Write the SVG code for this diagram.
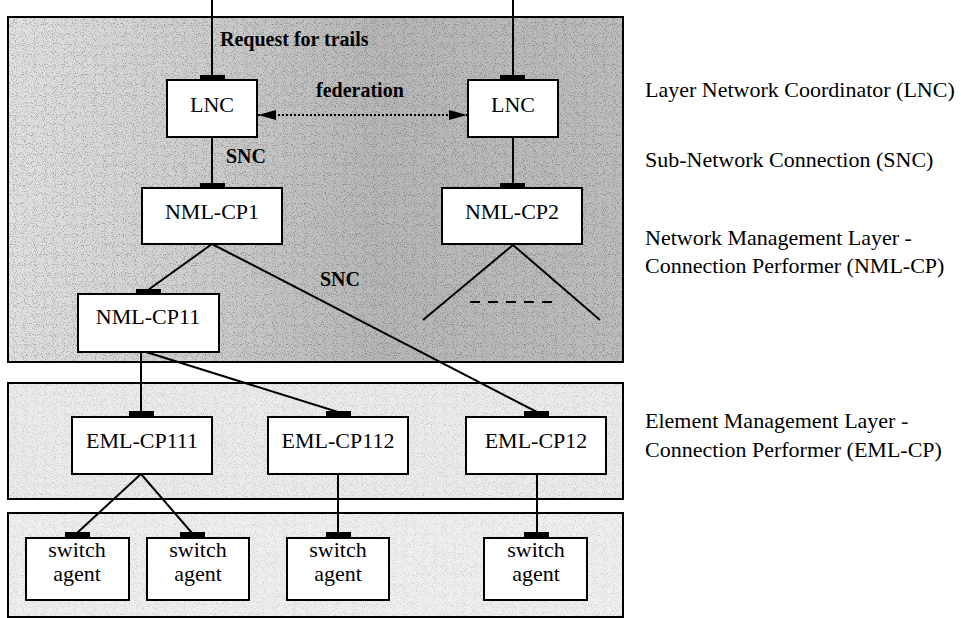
<svg xmlns="http://www.w3.org/2000/svg" width="961" height="618" viewBox="0 0 961 618">
<style>
.panel{stroke:#000;stroke-width:2}
.box{fill:#fff;stroke:#000;stroke-width:2}
.port{fill:#000}
.t{font-family:"Liberation Serif","Times New Roman",serif;font-size:22px;fill:#000}
.c{text-anchor:middle}
.b{font-weight:bold;font-size:20px}
.ln{stroke:#000;stroke-width:2;fill:none}
</style>
<defs>
<linearGradient id="g1" x1="0" y1="0" x2="1" y2="0">
<stop offset="0" stop-color="#e2e2e2"/>
<stop offset="0.3" stop-color="#d0d0d0"/>
<stop offset="0.6" stop-color="#b8b8b8"/>
<stop offset="1" stop-color="#bebebe"/>
</linearGradient>
<filter id="noise" x="0" y="0" width="100%" height="100%">
<feTurbulence type="fractalNoise" baseFrequency="0.9" numOctaves="1" seed="7"/>
<feColorMatrix type="matrix" values="0 0 0 0 0  0 0 0 0 0  0 0 0 0 0  5 0 0 0 -2.6"/>
</filter>
<marker id="ah" viewBox="0 0 18 10" refX="18" refY="5" markerWidth="18" markerHeight="10" markerUnits="userSpaceOnUse" orient="auto-start-reverse">
<path d="M0,0 L18,5 L0,10 Z" fill="#000"/>
</marker>
</defs>
<g id="panels">
<rect class="panel" x="8" y="17" width="615" height="345" fill="url(#g1)"/>
<rect x="9" y="18" width="613" height="343" filter="url(#noise)" opacity="0.28"/>
<rect class="panel" x="8" y="383" width="615" height="116" fill="#ececec"/>
<rect x="9" y="384" width="613" height="114" filter="url(#noise)" opacity="0.15"/>
<rect class="panel" x="8" y="513" width="615" height="104" fill="#efefef"/>
<rect x="9" y="514" width="613" height="102" filter="url(#noise)" opacity="0.13"/>
</g>
<g id="connectors">
<line class="ln" x1="212" y1="0" x2="212" y2="76"/>
<line class="ln" x1="513" y1="0" x2="513" y2="76"/>
<line class="ln" x1="212" y1="137" x2="212" y2="184"/>
<line class="ln" x1="513" y1="137" x2="513" y2="184"/>
<line x1="258" y1="115" x2="467" y2="115" stroke="#000" stroke-width="2" stroke-dasharray="2 2" marker-start="url(#ah)" marker-end="url(#ah)"/>
<line class="ln" x1="212" y1="244" x2="148" y2="290"/>
<line class="ln" x1="212" y1="244" x2="537" y2="412"/>
<line class="ln" x1="513" y1="245" x2="423" y2="320"/>
<line class="ln" x1="513" y1="245" x2="600" y2="320"/>
<line x1="470" y1="302" x2="557" y2="302" stroke="#000" stroke-width="2" stroke-dasharray="10 8"/>
<line class="ln" x1="141" y1="352" x2="141" y2="412"/>
<line class="ln" x1="146" y1="352" x2="338" y2="412"/>
<line class="ln" x1="141" y1="474" x2="77" y2="533"/>
<line class="ln" x1="141" y1="474" x2="192" y2="533"/>
<line class="ln" x1="338" y1="474" x2="338" y2="533"/>
<line class="ln" x1="537" y1="474" x2="537" y2="533"/>
<text class="t b" x="220" y="46">Request for trails</text>
<text class="t b" x="316" y="97">federation</text>
<text class="t b" x="226" y="163">SNC</text>
<text class="t b" x="320" y="286">SNC</text>
</g>
<g id="lnc1">
<rect class="box" x="167" y="80" width="90" height="57"/>
<rect class="port" x="200" y="75" width="25" height="6"/>
<text class="t c" x="212" y="112">LNC</text>
</g>
<g id="lnc2">
<rect class="box" x="468" y="80" width="90" height="57"/>
<rect class="port" x="500" y="75" width="25" height="6"/>
<text class="t c" x="513" y="112">LNC</text>
</g>
<g id="nmlcp1">
<rect class="box" x="142" y="188" width="140" height="56"/>
<rect class="port" x="200" y="183" width="25" height="6"/>
<text class="t c" x="212" y="219">NML-CP1</text>
</g>
<g id="nmlcp2">
<rect class="box" x="442" y="188" width="140" height="56"/>
<rect class="port" x="500" y="183" width="25" height="6"/>
<text class="t c" x="512" y="219">NML-CP2</text>
</g>
<g id="nmlcp11">
<rect class="box" x="78" y="294" width="141" height="58"/>
<rect class="port" x="136" y="289" width="25" height="6"/>
<text class="t c" x="148" y="324">NML-CP11</text>
</g>
<g id="emlcp111">
<rect class="box" x="72" y="417" width="140" height="57"/>
<rect class="port" x="129" y="411" width="25" height="6"/>
<text class="t c" x="142" y="448">EML-CP111</text>
</g>
<g id="emlcp112">
<rect class="box" x="268" y="417" width="140" height="57"/>
<rect class="port" x="326" y="411" width="25" height="6"/>
<text class="t c" x="338" y="448">EML-CP112</text>
</g>
<g id="emlcp12">
<rect class="box" x="466" y="417" width="140" height="57"/>
<rect class="port" x="524" y="411" width="25" height="6"/>
<text class="t c" x="536" y="448">EML-CP12</text>
</g>
<g id="sa1">
<rect class="box" x="26" y="538" width="103" height="62"/>
<rect class="port" x="65" y="532" width="25" height="6"/>
<text class="t c" x="77" y="557">switch</text>
<text class="t c" x="77" y="581">agent</text>
</g>
<g id="sa2">
<rect class="box" x="147" y="538" width="102" height="62"/>
<rect class="port" x="180" y="532" width="25" height="6"/>
<text class="t c" x="198" y="557">switch</text>
<text class="t c" x="198" y="581">agent</text>
</g>
<g id="sa3">
<rect class="box" x="287" y="538" width="102" height="62"/>
<rect class="port" x="326" y="532" width="25" height="6"/>
<text class="t c" x="338" y="557">switch</text>
<text class="t c" x="338" y="581">agent</text>
</g>
<g id="sa4">
<rect class="box" x="484" y="538" width="103" height="62"/>
<rect class="port" x="524" y="532" width="25" height="6"/>
<text class="t c" x="536" y="557">switch</text>
<text class="t c" x="536" y="581">agent</text>
</g>
<g id="legend">
<text class="t" x="645" y="97">Layer Network Coordinator (LNC)</text>
<text class="t" x="645" y="167">Sub-Network Connection (SNC)</text>
<text class="t" x="645" y="245">Network Management Layer -</text>
<text class="t" x="645" y="273">Connection Performer (NML-CP)</text>
<text class="t" x="645" y="428">Element Management Layer -</text>
<text class="t" x="645" y="457">Connection Performer (EML-CP)</text>
</g>
</svg>
